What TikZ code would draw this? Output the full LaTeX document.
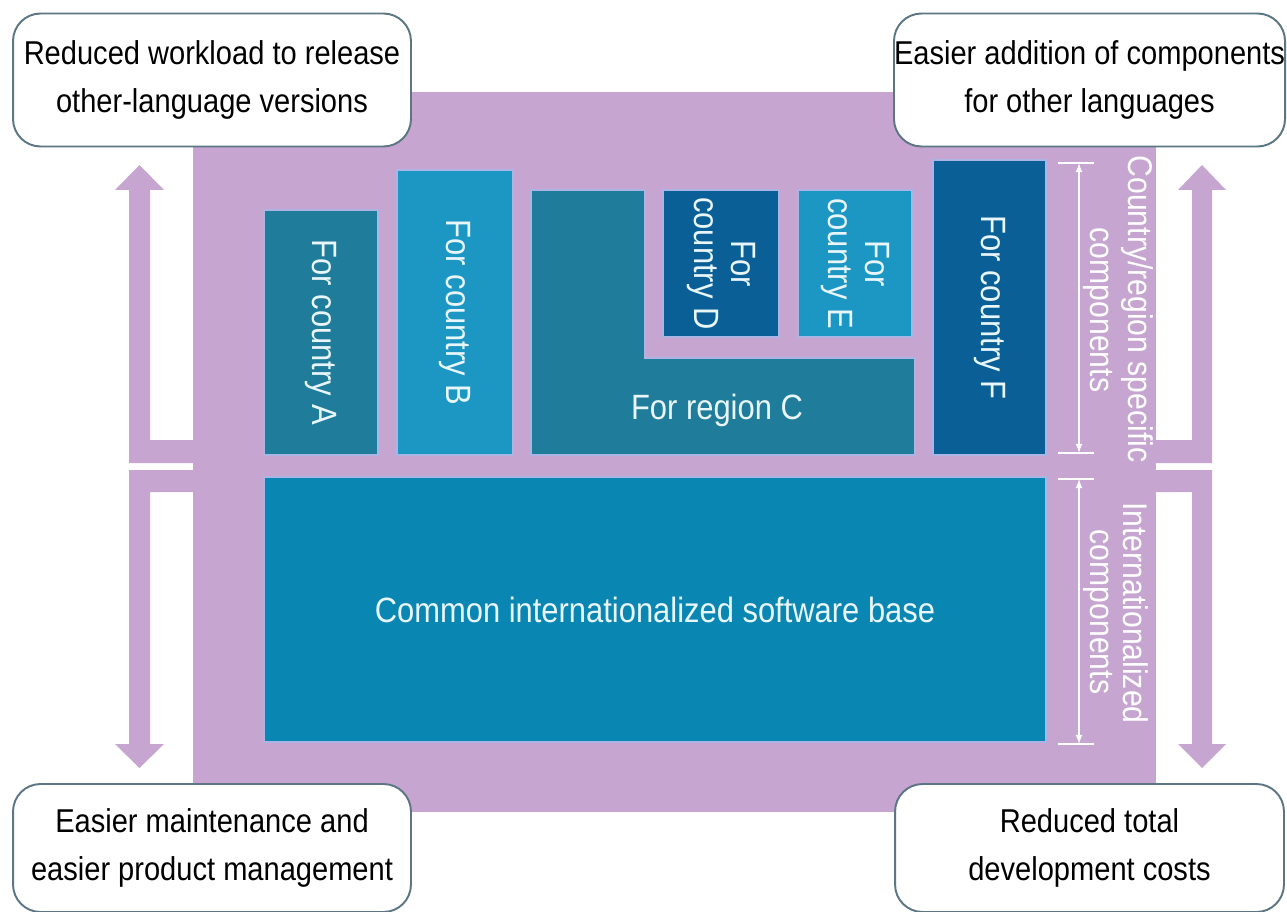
\documentclass[tikz,border=0pt]{standalone}
\usepackage{fontspec}
\setmainfont{Liberation Sans}[FakeStretch=0.88]
\usetikzlibrary{positioning}
\definecolor{lilac}{RGB}{198,166,208}
\definecolor{boxedge}{RGB}{172,180,228}
\definecolor{tealA}{RGB}{31,124,154}
\definecolor{blueB}{RGB}{28,150,194}
\definecolor{darkD}{RGB}{10,96,150}
\definecolor{baseblue}{RGB}{10,134,178}
\definecolor{calloutline}{RGB}{92,118,132}
\definecolor{paletext}{RGB}{232,246,250}

\begin{document}
\begin{tikzpicture}[
    x=0.02cm, y=-0.02cm,
    font=\fontsize{20}{21}\selectfont
]
\tikzset{
    callout/.style = {draw=calloutline, line width=1.1pt, fill=white, rounded corners=0.55cm,
                      align=center, inner sep=0pt, font=\fontsize{18.8}{27}\selectfont},
    cbox/.style = {draw=boxedge, line width=0.9pt, inner sep=0pt, outer sep=0pt,
                   align=center, text=paletext},
    sidetext/.style = {text=white, rotate=-90, inner sep=0pt, font=\fontsize{19.5}{20}\selectfont},
    dimline/.style = {<->, >=latex, white, line width=0.8pt},
    tick/.style = {white, line width=0.8pt}
}
\useasboundingbox (0,0) rectangle (1287,912);
\fill[white] (0,0) rectangle (1287,912);

% purple backdrop
\fill[lilac] (193,92) rectangle (1156,812);

% benefit arrows, left and right
\fill[lilac] (193,463) -- (129,463) -- (129,190) -- (115,190) -- (139.5,165) -- (164,190)
    -- (150,190) -- (150,440) -- (193,440) -- cycle;
\fill[lilac] (193,470) -- (129,470) -- (129,744) -- (115,744) -- (139.5,768) -- (164,744)
    -- (150,744) -- (150,492) -- (193,492) -- cycle;
\fill[lilac] (1155,463) -- (1212,463) -- (1212,190) -- (1226,190) -- (1202,165) -- (1178,190)
    -- (1192,190) -- (1192,440) -- (1155,440) -- cycle;
\fill[lilac] (1155,470) -- (1212,470) -- (1212,744) -- (1226,744) -- (1202,768) -- (1178,744)
    -- (1192,744) -- (1192,492) -- (1155,492) -- cycle;

% country/region specific components
\node[cbox, fill=tealA, rotate=-90, minimum width=4.9cm, minimum height=2.28cm]
    (ca) at (321,332.5) {For country A};
\node[cbox, fill=blueB, rotate=-90, minimum width=5.7cm, minimum height=2.32cm]
    (cb) at (455,312.5) {For country B};
\draw[cbox, fill=tealA] (531,190) -- (645,190) -- (645,358) -- (915,358) -- (915,455)
    -- (531,455) -- cycle;
\node[text=paletext] (rc) at (717,410) {For region C};
\node[cbox, fill=darkD, rotate=-90, minimum width=2.94cm, minimum height=2.32cm]
    (cd) at (721,263.5) {For\\country D};
\node[cbox, fill=blueB, rotate=-90, minimum width=2.94cm, minimum height=2.28cm]
    (ce) at (855,263.5) {For\\country E};
\node[cbox, fill=darkD, rotate=-90, minimum width=5.9cm, minimum height=2.26cm]
    (cf) at (989.5,307.5) {For country F};

% internationalized base
\node[cbox, fill=baseblue, minimum width=15.64cm, minimum height=5.3cm]
    (base) at (655,609.5) {Common internationalized software base};

% side labels with extents
\coordinate (st) at (1079,163);
\coordinate (sb) at (1079,453);
\coordinate (it) at (1079,479);
\coordinate (ib) at (1079,744);
\draw[tick] (1058,163) -- (1094,163);
\draw[tick] (1058,453) -- (1094,453);
\draw[tick] (1058,479) -- (1094,479);
\draw[tick] (1058,744) -- (1094,744);
\draw[dimline] (st) -- (sb);
\draw[dimline] (it) -- (ib);
\node[sidetext] (crs) at (1137,309) {Country/region specific};
\node[sidetext] (cmp1) at (1098,310) {components};
\node[sidetext] (intl) at (1136,613) {Internationalized};
\node[sidetext] (cmp2) at (1098,612) {components};

% benefits
\node[callout, minimum width=7.96cm, minimum height=2.66cm] (tl) at (212,80)
    {Reduced workload to release\\other-language versions};
\node[callout, minimum width=7.78cm, minimum height=2.66cm] (tr) at (1089.5,80)
    {Easier addition of components\\for other languages};
\node[callout, minimum width=7.96cm, minimum height=2.56cm] (bl) at (212,848)
    {Easier maintenance and\\easier product management};
\node[callout, minimum width=7.78cm, minimum height=2.56cm] (br) at (1089.5,848)
    {Reduced total\\development costs};
\end{tikzpicture}
\end{document}
